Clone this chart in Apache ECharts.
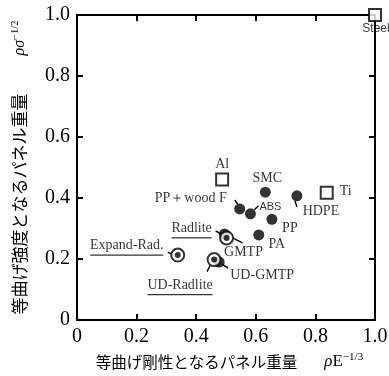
<!DOCTYPE html>
<html><head><meta charset="utf-8">
<script src="https://cdn.jsdelivr.net/npm/echarts@6/dist/echarts.min.js"></script>
<style>html,body{margin:0;padding:0;background:#fff}#c{width:389px;height:376px}</style>
</head><body><div id="c"></div>
<script>
// ---- data ----
const xTicks = [0, 0.2, 0.4, 0.6, 0.8, 1.0];
const yTicks = [0, 0.2, 0.4, 0.6, 0.8, 1.0];
const metalNames = ['Steel', 'Al', 'Ti'];
const metalX = [1.0, 0.487, 0.838];
const metalY = [1.0, 0.461, 0.417];
const plasticNames = ['SMC', 'HDPE', 'PP＋wood F', 'ABS', 'PP', 'PA', 'GMTP', 'UD-GMTP'];
const plasticX = [0.632, 0.738, 0.546, 0.582, 0.654, 0.610, 0.495, 0.477];
const plasticY = [0.419, 0.407, 0.364, 0.348, 0.330, 0.279, 0.282, 0.190];
const radliteNames = ['Radlite', 'Expand-Rad.', 'UD-Radlite'];
const radliteX = [0.502, 0.338, 0.460];
const radliteY = [0.269, 0.213, 0.198];

// ---- label layout (pixel offsets from the marker centre) ----
const labelOffset = {
  'Steel': [1, 14], 'Al': [0, -15], 'Ti': [19, -1], 'SMC': [2, -14],
  'HDPE': [24, 15], 'PP＋wood F': [-49, -11], 'ABS': [20, -7], 'PP': [18, 9],
  'PA': [18, 9], 'GMTP': [19, 18], 'UD-GMTP': [43, 13],
  'Radlite': [-35, -8], 'Expand-Rad.': [-51, -8], 'UD-Radlite': [-34, 27]
};
// leader strokes: [dx1, dy1, dx2, dy2] in px relative to the marker centre
const leaderSeg = {
  'HDPE': [-2, 5, 0, 11], 'PP＋wood F': [-5, -9, -2, -5], 'ABS': [4, -4, 8, -8],
  'GMTP': [8, 4, 18, 9], 'UD-GMTP': [3, 2, 9, 6], 'Radlite': [-11, -7, -6, -4],
  'Expand-Rad.': [-10, -3, -6, -1], 'UD-Radlite': [-7, 12, -4, 6]
};
const underlined = ['Radlite', 'Expand-Rad.', 'UD-Radlite'];

const SERIF = '"Liberation Serif", "DejaVu Serif", serif';
const JP = '"Noto Sans CJK JP", sans-serif';
const ctx = document.createElement('canvas').getContext('2d');
ctx.font = '14px "Liberation Serif"';

function item(name, x, y) {
  const off = labelOffset[name];
  const d = { name: name, value: [x, y], label: { show: true, position: 'inside', offset: off, formatter: '{b}' } };
  if (name === 'Steel') { d.label.fontFamily = '"Liberation Sans", sans-serif'; d.label.fontSize = 12; }
  if (name === 'ABS') { d.label.fontFamily = '"Liberation Sans", sans-serif'; d.label.fontSize = 11; }
  if (underlined.indexOf(name) >= 0) {
    const w = Math.round(ctx.measureText(name).width);
    d.label.formatter = '{t|' + name + '}\n{u| }';
    d.label.rich = {
      t: { fontFamily: SERIF, fontSize: 14, lineHeight: 16, color: '#000' },
      u: { width: w, height: 1.3, lineHeight: 3, fontSize: 1, backgroundColor: '#000' }
    };
  }
  return d;
}

const plasticData = plasticNames.map((n, i) => item(n, plasticX[i], plasticY[i]));
const radliteData = radliteNames.map((n, i) => item(n, radliteX[i], radliteY[i]));
const radliteCore = radliteNames.map((n, i) => [radliteX[i], radliteY[i]]);
const metalData = metalNames.map((n, i) => item(n, metalX[i], metalY[i]));

// leader data taken from the arrays above
const allNames = plasticNames.concat(radliteNames);
const allX = plasticX.concat(radliteX);
const allY = plasticY.concat(radliteY);
const leaderNames = Object.keys(leaderSeg);
const leaderData = leaderNames.map(n => { const i = allNames.indexOf(n); return [allX[i], allY[i]]; });

const baseLabel = { color: '#000', fontFamily: SERIF, fontSize: 14 };

const axisCommon = {
  min: 0, max: 1, interval: 0.2,
  axisLine: { show: true, onZero: false, lineStyle: { color: '#000', width: 2 } },
  axisTick: { show: true, inside: true, length: 6, lineStyle: { color: '#000', width: 2 } },
  splitLine: { show: false }
};
const fmt = v => (v === 0 ? '0' : v.toFixed(1));

const chart = echarts.init(document.getElementById('c'), null, { renderer: 'canvas' });
chart.setOption({
  animation: false,
  backgroundColor: '#fff',
  grid: { left: 77, right: 14, top: 15, bottom: 56, containLabel: false, outerBoundsMode: 'none' },
  xAxis: [
    Object.assign({}, axisCommon, {
      type: 'value', position: 'bottom',
      axisLabel: { color: '#000', fontFamily: SERIF, fontSize: 20, margin: 7, formatter: fmt,
        customValues: xTicks },
      name: '{j|等曲げ剛性となるパネル重量}{sp| }{g|ρ}{e|E}{s|−1/3}',
      nameLocation: 'middle', nameGap: 24,
      nameTextStyle: {
        padding: [0, 0, 0, 7],
        rich: {
          j: { fontFamily: JP, fontSize: 15.5, color: '#000', lineHeight: 20 },
          sp: { width: 27 },
          g: { fontFamily: SERIF, fontStyle: 'italic', fontSize: 17, color: '#000' },
          e: { fontFamily: SERIF, fontSize: 17, color: '#000' },
          s: { fontFamily: SERIF, fontSize: 11, color: '#000', verticalAlign: 'top', lineHeight: 20 }
        }
      }
    }),
    Object.assign({}, axisCommon, { type: 'value', position: 'top', axisLabel: { show: false } })
  ],
  yAxis: [
    Object.assign({}, axisCommon, {
      type: 'value', position: 'left',
      axisLabel: { color: '#000', fontFamily: SERIF, fontSize: 20, margin: 7, formatter: fmt,
        customValues: yTicks },
      name: '{j|等曲げ強度となるパネル重量}{sp| }{g|ρσ}{s|−1/2}',
      nameLocation: 'middle', nameRotate: 90, nameGap: 47,
      nameTextStyle: {
        rich: {
          j: { fontFamily: JP, fontSize: 17, color: '#000', lineHeight: 20 },
          sp: { width: 38 },
          g: { fontFamily: SERIF, fontStyle: 'italic', fontSize: 16, color: '#000' },
          s: { fontFamily: SERIF, fontSize: 10.5, color: '#000', verticalAlign: 'top', lineHeight: 20 }
        }
      }
    }),
    Object.assign({}, axisCommon, { type: 'value', position: 'right', axisLabel: { show: false } })
  ],
  series: [
    {
      type: 'custom', name: 'leaders', data: leaderData, silent: true, z: 2, clip: false,
      renderItem: function (params, api) {
        const p = api.coord([api.value(0), api.value(1)]);
        const s = leaderSeg[leaderNames[params.dataIndex]];
        return {
          type: 'line',
          shape: { x1: p[0] + s[0], y1: p[1] + s[1], x2: p[0] + s[2], y2: p[1] + s[3] },
          style: { stroke: '#000', lineWidth: 1.4 }
        };
      }
    },
    {
      type: 'scatter', name: 'plastics', data: plasticData, symbol: 'circle', symbolSize: 11,
      itemStyle: { color: '#000' }, label: baseLabel, clip: false, z: 3
    },
    {
      type: 'scatter', name: 'radlite', data: radliteData, symbol: 'circle', symbolSize: 13,
      itemStyle: { color: '#fff', borderColor: '#000', borderWidth: 2 },
      label: baseLabel, clip: false, z: 4
    },
    {
      type: 'scatter', name: 'radliteCore', data: radliteCore, symbol: 'circle', symbolSize: 6,
      itemStyle: { color: '#000' }, silent: true, clip: false, z: 5
    },
    {
      type: 'scatter', name: 'metals', data: metalData, symbol: 'rect', symbolSize: 12,
      itemStyle: { color: '#fff', borderColor: '#000', borderWidth: 2 },
      label: baseLabel, clip: false, z: 6
    }
  ]
});
</script>
</body></html>
